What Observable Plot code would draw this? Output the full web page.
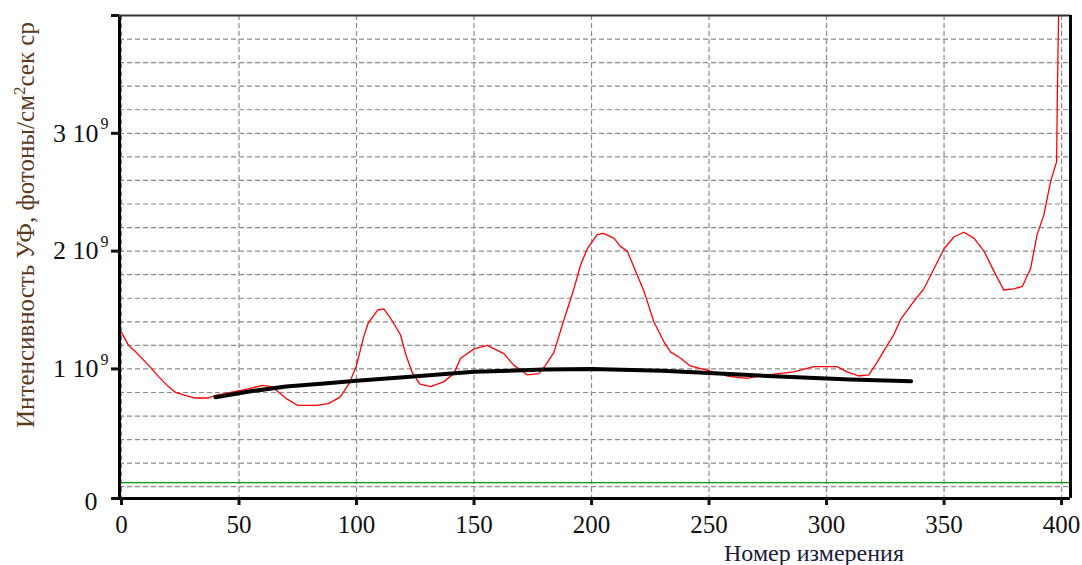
<!DOCTYPE html>
<html><head><meta charset="utf-8">
<script src="https://cdn.jsdelivr.net/npm/d3@7"></script>
<script src="https://cdn.jsdelivr.net/npm/@observablehq/plot@0.6"></script>
<style>body{margin:0;background:#fff}</style>
</head><body><div id="chart"></div>
<script>
// Measurement number and UV intensity (units of 10^9 photons/cm^2 s sr)
const redN = [0,3,6,11.6,16,20,23,27,31.5,37,40,44,48.5,54,60,64,67,70,75,83,88,93,97,100,103,105,109,111.6,114.5,118.7,121,123.7,127,131.5,137,141.4,144.3,150,155.6,162.7,167,172.6,177.6,180.4,184,188,192.5,195.3,198.2,202.4,205,209.5,212.3,215.2,219.4,222.3,226.5,230.8,233.6,237.9,242,249,257.7,266,275,286,294.6,300,304.5,308.8,313.7,318,321.6,325.8,328.6,331.5,337,341.4,345.7,350,354.2,358.4,362.7,367,371.2,375.4,379.7,383.3,386.8,389.6,392.5,395.3,397.9,398.2,398.9];
const redV = [1.31,1.20,1.145,1.03,0.93,0.85,0.80,0.776,0.753,0.753,0.776,0.79,0.81,0.83,0.86,0.85,0.80,0.75,0.69,0.69,0.705,0.76,0.88,1.03,1.27,1.39,1.50,1.51,1.43,1.29,1.12,0.97,0.87,0.85,0.89,0.96,1.09,1.17,1.20,1.13,1.03,0.95,0.96,1.03,1.14,1.40,1.68,1.88,2.02,2.14,2.15,2.11,2.04,2.00,1.80,1.66,1.40,1.23,1.145,1.09,1.025,0.99,0.94,0.92,0.95,0.975,1.02,1.02,1.02,0.975,0.94,0.95,1.06,1.20,1.29,1.42,1.57,1.68,1.85,2.02,2.12,2.16,2.11,2.00,1.83,1.67,1.68,1.70,1.85,2.14,2.31,2.59,2.76,3.33,4.2];
const fitN = [40,55,70,85,100,120,150,180,200,230,250,280,310,336];
const fitV = [0.76,0.81,0.85,0.875,0.90,0.93,0.975,0.995,1.0,0.985,0.965,0.935,0.91,0.895];
const baseV = 0.035;
const xTicks = [0,50,100,150,200,250,300,350,400];
const yTicks = [1,2,3];
const yGrid = [0,0.2,0.4,0.6,0.8,1,1.2,1.4,1.6,1.8,2,2.2,2.4,2.6,2.8,3,3.2,3.4,3.6,3.8];
const xLimits = [-0.85, 403.8];
const yLimits = [-0.1, 4.0];

const red = redN.map((n,i)=>({n, v: redV[i]}));
const fit = fitN.map((n,i)=>({n, v: fitV[i]}));

const gridStyle = {stroke:"#8a8a8a", strokeOpacity:1, strokeDasharray:"5,3", strokeWidth:1.2};
const svg = Plot.plot({
  width:1082, height:565,
  marginLeft:119, marginRight:12, marginTop:15, marginBottom:67,
  x:{domain:xLimits, axis:null},
  y:{domain:yLimits, axis:null},
  style:{fontFamily:"'Liberation Serif','Times New Roman',serif", background:"white", color:"#111"},
  marks:[
    Plot.gridX(xTicks, gridStyle),
    Plot.gridY(yGrid, gridStyle),
    Plot.ruleY([baseV], {stroke:"#009a00", strokeWidth:1.3}),
    Plot.line(red, {x:"n", y:"v", stroke:"#ff0000", strokeWidth:1.3, clip:true}),
    Plot.line(fit, {x:"n", y:"v", stroke:"black", strokeWidth:4}),
    Plot.ruleX([xLimits[0]], {stroke:"black", strokeWidth:3}),
    Plot.ruleY([yLimits[0]], {stroke:"black", strokeWidth:3}),
    Plot.ruleY([yLimits[1]], {stroke:"#333", strokeWidth:2}),
    Plot.ruleX([xLimits[1]], {stroke:"black", strokeWidth:3}),
    Plot.axisX(xTicks, {tickSize:7, strokeWidth:3, fontSize:25, tickPadding:10, color:"#111", label:null}),
    Plot.axisY([yLimits[0], ...yTicks, yLimits[1]], {tickSize:8, strokeWidth:3, fontSize:26, tickPadding:13, color:"#111",
      tickFormat: d => yTicks.includes(d) ? `${d} 10` : "", label:null}),
    Plot.text(yTicks, {x: xLimits[0], y: d=>d, text: ()=>"9", dx:-19, dy:-9, textAnchor:"start", fontSize:16, fill:"#111"}),
    Plot.text([yLimits[0]], {x: xLimits[0], y: d=>d, text: ()=>"0", dx:-22, dy:3, textAnchor:"end", fontSize:26, fill:"#111"})
  ]
});

const s = d3.select(svg);
s.append("text")
  .attr("x", 814).attr("y", 561)
  .attr("text-anchor","middle")
  .attr("font-size", 24)
  .attr("fill", "#1a1a3a")
  .text("Номер измерения");
const yl = s.append("text")
  .attr("transform","translate(34,225) rotate(-90)")
  .attr("text-anchor","middle")
  .attr("font-size", 25)
  .attr("fill", "#5c3a1e");
yl.append("tspan").text("Интенсивность УФ, фотоны/см");
yl.append("tspan").attr("dy",-9).attr("font-size",17).text("2");
yl.append("tspan").attr("dy",9).text("сек ср");

document.getElementById("chart").appendChild(svg);
</script>
</body></html>
